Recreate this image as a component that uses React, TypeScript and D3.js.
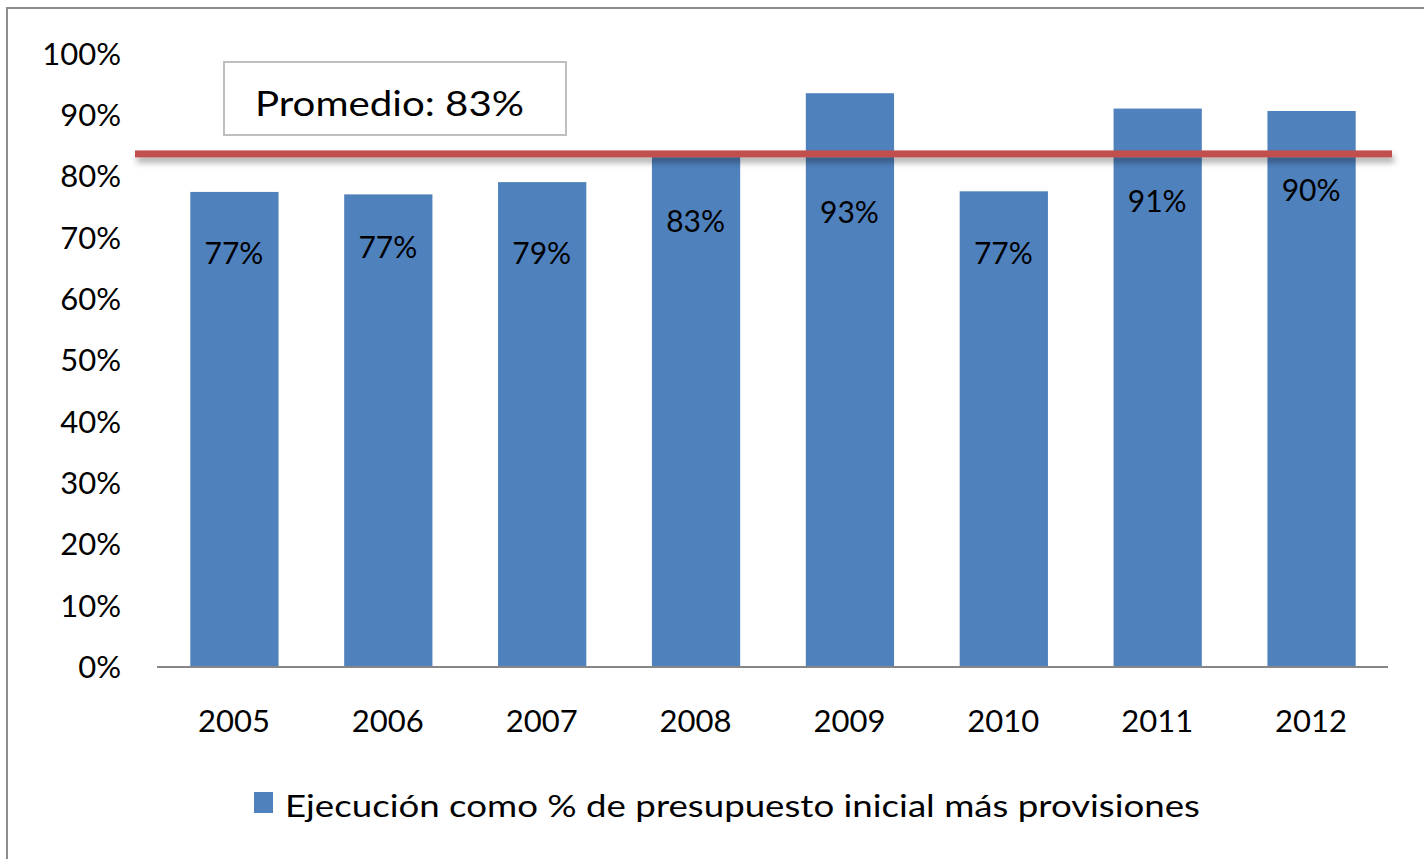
import React from "react";
import * as d3 from "d3";

const years = ["2005", "2006", "2007", "2008", "2009", "2010", "2011", "2012"];
const execution = [77.5, 77.1, 79.1, 83.4, 93.6, 77.6, 91.1, 90.7];
const valueLabels = ["77%", "77%", "79%", "83%", "93%", "77%", "91%", "90%"];
// vertical position of each data label, in value units (labels were placed by hand)
const labelLevels = [67.5, 68.4, 67.5, 72.6, 74.2, 67.5, 76.0, 77.8];
const average = 83.7;
const averageLabel = "Promedio: 83%";
const yTicks = [0, 10, 20, 30, 40, 50, 60, 70, 80, 90, 100];
const legendLabel = "Ejecución como % de presupuesto inicial más provisiones";

const W = 1424;
const H = 859;
const FONT = "Lato, 'Open Sans', sans-serif";

export default function App() {
  const x = d3.scaleBand<string>().domain(years).range([157, 1388]).paddingInner(0.42).paddingOuter(0.21);
  const y = d3.scaleLinear().domain([0, 100]).range([667, 54]);
  const [x0, x1] = x.range();
  const lineW = 7;

  return (
    <svg width={W} height={H} style={{ position: "absolute", left: 0, top: 0, background: "#fff" }}>
      <defs>
        <filter id="shadow" filterUnits="userSpaceOnUse" x={0} y={100} width={W} height={120}>
          <feDropShadow dx="2" dy="5" stdDeviation="3" floodColor="#000" floodOpacity="0.35" />
        </filter>
      </defs>
      <rect x={7} y={8} width={W + 10} height={H + 10} fill="#fff" stroke="#8c8c8c" strokeWidth={2} />

      {yTicks.map((t) => (
        <text key={t} x={121} y={y(t)} dy="0.35em" textAnchor="end" fontFamily={FONT} fontSize={31} fill="#000">
          {t}%
        </text>
      ))}

      {years.map((yr, i) => (
        <rect key={yr} x={(x(yr) as number) + 1} y={y(execution[i])} width={x.bandwidth() - 1} height={y(0) - y(execution[i])} fill="#4F81BD" />
      ))}

      <line x1={x0} x2={x1} y1={y(0)} y2={y(0)} stroke="#868686" strokeWidth={2} />

      {years.map((yr) => (
        <text key={yr} x={(x(yr) as number) + x.bandwidth() / 2} y={721} dy="0.35em" textAnchor="middle" fontFamily={FONT} fontSize={31} fill="#000">
          {yr}
        </text>
      ))}

      <rect x={x0 - 22} y={y(average) - lineW / 2} width={x1 + 4 - (x0 - 22)} height={lineW} fill="#C0504D" filter="url(#shadow)" />

      {years.map((yr, i) => (
        <text key={"l" + yr} x={(x(yr) as number) + x.bandwidth() / 2} y={y(labelLevels[i])} dy="0.35em" textAnchor="middle" fontFamily={FONT} fontSize={30} fill="#000">
          {valueLabels[i]}
        </text>
      ))}

      <rect x={224} y={62} width={342} height={73} fill="#fff" stroke="#bfbfbf" strokeWidth={2} />
      <text x={255} y={104} dy="0.35em" fontFamily={FONT} fontSize={34} fill="#000" textLength={269} lengthAdjust="spacingAndGlyphs">
        {averageLabel}
      </text>

      <rect x={254} y={792} width={19} height={21} fill="#4F81BD" />
      <text x={285} y={806} dy="0.35em" fontFamily={FONT} fontSize={30} fill="#000" textLength={915} lengthAdjust="spacingAndGlyphs">
        {legendLabel}
      </text>
    </svg>
  );
}
